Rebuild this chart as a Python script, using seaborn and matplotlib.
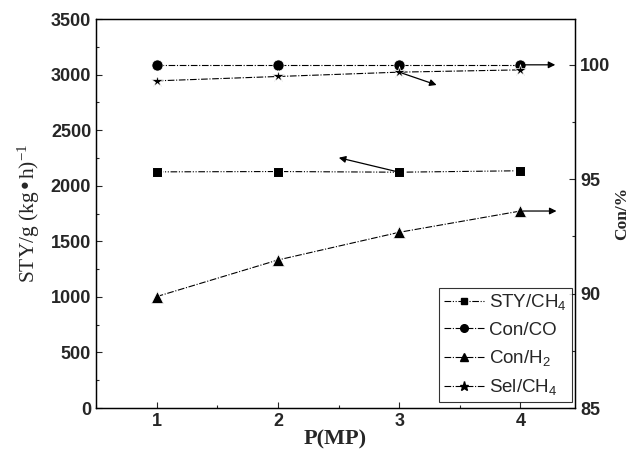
import matplotlib
matplotlib.use('Agg')
import matplotlib.pyplot as plt
import pandas as pd
import seaborn as sns
from matplotlib.ticker import MultipleLocator
from matplotlib.lines import Line2D

# data
pressure = [1, 2, 3, 4]
sty_ch4 = [2125, 2128, 2122, 2135]          # left axis
con_co = [100.0, 100.0, 100.0, 100.0]       # right axis
con_h2 = [89.87, 91.47, 92.68, 93.61]       # right axis
sel_ch4 = [99.30, 99.49, 99.68, 99.78]      # right axis

sns.set_style('ticks')
plt.rcParams['font.family'] = ['Liberation Sans', 'DejaVu Sans']
plt.rcParams['mathtext.default'] = 'regular'
plt.rcParams['xtick.direction'] = 'in'
plt.rcParams['ytick.direction'] = 'in'

fig = plt.figure(figsize=(6.33, 4.54), dpi=100)
ax = fig.add_axes([0.1517, 0.1013, 0.7567, 0.8567])
ax2 = ax.twinx()

dd = (6, 1.5, 1, 1.5)        # dash-dot
ddd = (6, 1.5, 1, 1.5, 1, 1.5)

df = pd.DataFrame({'P': pressure, 'sty': sty_ch4, 'co': con_co, 'h2': con_h2, 'sel': sel_ch4})

sns.lineplot(data=df, x='P', y='sty', ax=ax, color='black', lw=0.8, marker='s', markersize=7,
             dashes=False, legend=False)
ax.lines[-1].set_dashes(ddd)
for col, mk, ms in [('co', 'o', 8), ('h2', '^', 8), ('sel', '*', 9)]:
    sns.lineplot(data=df, x='P', y=col, ax=ax2, color='black', lw=0.8, marker=mk, markersize=ms,
                 markeredgewidth=0.5, legend=False)
    ax2.lines[-1].set_dashes(dd)

# arrows showing which axis each series belongs to
arr = dict(arrowstyle='-|>', color='black', lw=0.9, mutation_scale=10)
ax2.annotate('', xy=(4.31, 100.0), xytext=(4.0, 100.0), arrowprops=arr)
ax2.annotate('', xy=(4.32, 93.61), xytext=(4.0, 93.61), arrowprops=arr)
ax2.annotate('', xy=(3.33, 99.08), xytext=(3.0, 99.68), arrowprops=arr)
ax.annotate('', xy=(2.48, 2258), xytext=(3.0, 2122), arrowprops=arr)

ax.set_xlim(0.5, 4.45)
ax.set_ylim(0, 3500)
ax2.set_ylim(85, 102)
ax.xaxis.set_major_locator(MultipleLocator(1))
ax.xaxis.set_minor_locator(MultipleLocator(0.5))
ax.yaxis.set_major_locator(MultipleLocator(500))
ax.yaxis.set_minor_locator(MultipleLocator(250))
ax2.yaxis.set_major_locator(MultipleLocator(5))
ax2.yaxis.set_minor_locator(MultipleLocator(2.5))

for a in (ax, ax2):
    a.tick_params(which='major', length=4, width=0.8, labelsize=13)
    a.tick_params(which='minor', length=2.5, width=0.8)
    for lab in a.get_xticklabels() + a.get_yticklabels():
        lab.set_fontweight('bold')
    for s in a.spines.values():
        s.set_linewidth(0.9)
        s.set_color('black')

ax.set_xlabel('P(MP)', family='Liberation Serif', fontweight='bold', fontsize=16, labelpad=0)
ax.set_ylabel('STY/g (kg\u2022h)$^{-1}$', family='Liberation Serif', fontsize=15.5, labelpad=6)
ax2.set_ylabel('Con/%', family='Liberation Serif', fontweight='bold', fontsize=12.5, labelpad=3)

handles = [
    Line2D([], [], color='black', lw=0.8, dashes=ddd, marker='s', markersize=5),
    Line2D([], [], color='black', lw=0.8, dashes=dd, marker='o', markersize=5.5),
    Line2D([], [], color='black', lw=0.8, dashes=dd, marker='^', markersize=6),
    Line2D([], [], color='black', lw=0.8, dashes=dd, marker='*', markersize=6.5),
]
labels = ['STY/CH$_4$', 'Con/CO', 'Con/H$_2$', 'Sel/CH$_4$']
leg = ax2.legend(handles, labels, loc='lower right', bbox_to_anchor=(0.993, 0.015), fontsize=13.5,
                 frameon=True, fancybox=False, edgecolor='black', handlelength=2.1,
                 handletextpad=0.3, labelspacing=0.5, borderpad=0.25, borderaxespad=0)
leg.get_frame().set_linewidth(0.8)

fig.savefig('out.png', dpi=100)
